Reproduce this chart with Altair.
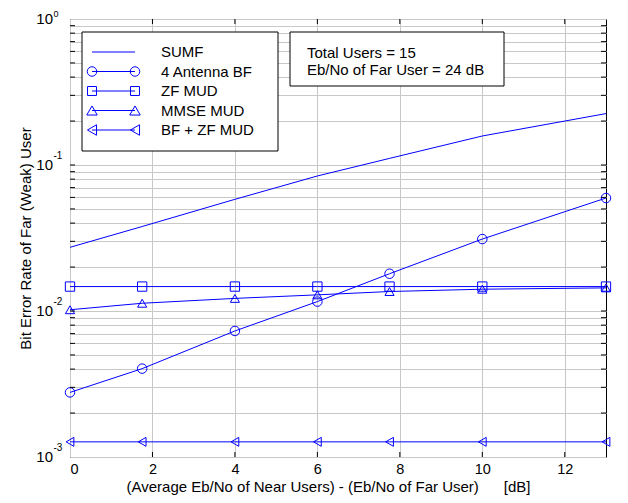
import altair as alt
import pandas as pd

# ---------------- data ----------------
x_vals = [0, 1.75, 4, 6, 7.75, 10, 13]
sumf = [0.0273, 0.0379, 0.0582, 0.0841, 0.111, 0.158, 0.225]
bf4 = [0.00277, 0.00403, 0.0073, 0.0116, 0.018, 0.0311, 0.0594]
zf_mud = [0.0147, 0.0147, 0.0147, 0.0147, 0.0147, 0.0147, 0.0147]
mmse_mud = [0.0102, 0.0113, 0.0122, 0.0129, 0.0136, 0.0141, 0.0144]
bf_zf = [0.00127, 0.00127, 0.00127, 0.00127, 0.00127, 0.00127, 0.00127]

series_names = ["SUMF", "4 Antenna BF", "ZF MUD", "MMSE MUD", "BF + ZF MUD"]
marker_names = ["4 Antenna BF", "ZF MUD", "MMSE MUD", "BF + ZF MUD"]
marker_shapes = ["circle", "square", "triangle-up", "triangle-left"]
marker_sizes = [90, 80, 110, 110]

x_ticks = [0, 2, 4, 6, 8, 10, 12]
y_major = [1, 0.1, 0.01, 0.001]
y_exp = ["0", "-1", "-2", "-3"]
info_lines = ["Total Users = 15", "Eb/No of Far User = 24 dB"]
x_title = "(Average Eb/No of Near Users) - (Eb/No of Far User)" + "\u00a0" * 6 + "[dB]"
y_title = "Bit Error Rate of Far (Weak) User"

# ---------------- layout ----------------
W, H = 536, 438
BLUE = "#0000ff"
FONT = "Liberation Sans"
GRID = "#c8c8c8"

y_grid = []
for dec in [0.001, 0.01, 0.1]:
    for m in range(1, 10):
        y_grid.append(round(dec * m, 6))
y_grid.append(1.0)
y_inner = [v for v in y_grid if 0.001 < v < 1]

rows = []
for name, vals in zip(series_names, [sumf, bf4, zf_mud, mmse_mud, bf_zf]):
    for xv, yv in zip(x_vals, vals):
        rows.append({"series": name, "x": xv, "y": yv})
df = pd.DataFrame(rows)
df_pts = df[df["series"] != "SUMF"]

xs = alt.Scale(domain=[0, 13], nice=False, zero=False)
ys = alt.Scale(type="log", domain=[0.001, 1], nice=False)
shape_scale = alt.Scale(domain=marker_names, range=marker_shapes)
size_scale = alt.Scale(domain=marker_names, range=marker_sizes)

x_axis = alt.Axis(values=x_ticks, grid=True, gridColor=GRID, gridWidth=1, ticks=False,
                  domain=False, labelFont=FONT, labelFontSize=14.5, labelColor="black",
                  labelPadding=5, title=x_title, titleFont=FONT, titleFontSize=15,
                  titleFontWeight="normal", titleColor="black", titleX=258, titleY=34.5,
                  titleBaseline="alphabetic", titleAlign="center")
y_axis = alt.Axis(values=y_grid, grid=True, gridColor=GRID, gridWidth=1, ticks=False,
                  labels=False, domain=False, title=y_title, titleFont=FONT,
                  titleFontSize=15, titleFontWeight="normal", titleColor="black",
                  titleX=-39.5, titleY=H / 2, titleBaseline="alphabetic", titleAlign="center")

X = alt.X("x:Q", scale=xs, axis=x_axis)
Y = alt.Y("y:Q", scale=ys, axis=y_axis)

lines = alt.Chart(df).mark_line(color=BLUE, strokeWidth=1).encode(
    x=X, y=Y, detail="series:N")

points = alt.Chart(df_pts).mark_point(filled=False, color=BLUE, strokeWidth=1, opacity=1).encode(
    x=X, y=Y,
    shape=alt.Shape("series:N", scale=shape_scale, legend=None),
    size=alt.Size("series:N", scale=size_scale, legend=None),
)

# inward ticks on all four sides
xt = pd.DataFrame({"x": [v for v in x_ticks if v > 0]})
yt = pd.DataFrame({"y": y_inner})
tick_bottom = alt.Chart(xt).mark_rule(color="black", strokeWidth=1).encode(
    x=X, y=alt.value(H - 5), y2=alt.value(H))
tick_top = alt.Chart(xt).mark_rule(color="black", strokeWidth=1).encode(
    x=X, y=alt.value(0), y2=alt.value(5))
tick_left = alt.Chart(yt).mark_rule(color="black", strokeWidth=1).encode(
    y=Y, x=alt.value(0), x2=alt.value(5))
tick_right = alt.Chart(yt).mark_rule(color="black", strokeWidth=1).encode(
    y=Y, x=alt.value(W - 5), x2=alt.value(W))

# y tick labels as 10 with a raised exponent
ylab = pd.DataFrame({"y": y_major, "base": ["10"] * len(y_major), "exp": y_exp})
ylab_base = alt.Chart(ylab).mark_text(align="right", baseline="middle", font=FONT,
                                      fontSize=15, color="black").encode(
    y=Y, x=alt.value(-17), text="base:N")
ylab_exp = alt.Chart(ylab).transform_filter(alt.datum.y < 0.5).mark_text(
    align="left", baseline="alphabetic", font=FONT, fontSize=10, color="black", dy=-6).encode(
    y=Y, x=alt.value(-16.5), text="exp:N")
ylab_exp_top = alt.Chart(ylab).transform_filter(alt.datum.y >= 0.5).mark_text(
    align="left", baseline="alphabetic", font=FONT, fontSize=9, color="black", dy=-2.5).encode(
    y=Y, x=alt.value(-16.5), text="exp:N")

# legend and info box, drawn by hand as in the original figure
one = pd.DataFrame({"a": [0]})
deco = [
    alt.Chart(one).mark_rect(fill="white", stroke="black", strokeWidth=1).encode(
        x=alt.value(12), x2=alt.value(208), y=alt.value(13), y2=alt.value(132)),
    alt.Chart(one).mark_rect(fill="white", stroke="black", strokeWidth=1).encode(
        x=alt.value(220), x2=alt.value(434), y=alt.value(13), y2=alt.value(67)),
]
for i, name in enumerate(series_names):
    ry = 33 + 19.5 * i
    deco.append(alt.Chart(one).mark_rule(color=BLUE, strokeWidth=1).encode(
        x=alt.value(22), x2=alt.value(65), y=alt.value(ry)))
    if name in marker_names:
        k = marker_names.index(name)
        for lx in (22, 65):
            deco.append(alt.Chart(one).mark_point(
                filled=False, color=BLUE, strokeWidth=1, opacity=1,
                shape=marker_shapes[k], size=marker_sizes[k]).encode(
                x=alt.value(lx), y=alt.value(ry)))
    deco.append(alt.Chart(one).mark_text(
        text=name, align="left", baseline="middle", font=FONT, fontSize=15,
        color="black").encode(x=alt.value(91), y=alt.value(ry)))
for i, t in enumerate(info_lines):
    deco.append(alt.Chart(one).mark_text(
        text=t, align="left", baseline="alphabetic", font=FONT, fontSize=15,
        color="black").encode(x=alt.value(237), y=alt.value(38.5 + 17.7 * i)))

chart = alt.layer(
    lines, points, tick_bottom, tick_top, tick_left, tick_right,
    ylab_base, ylab_exp, ylab_exp_top, *deco,
).properties(
    width=W, height=H,
    padding={"left": 62, "top": 11, "right": 14, "bottom": 38},
    autosize=alt.AutoSizeParams(type="none"),
    background="white",
).configure_view(stroke="black", strokeWidth=1)

chart.save("out.html", embed_options={"renderer": "svg", "actions": False})
